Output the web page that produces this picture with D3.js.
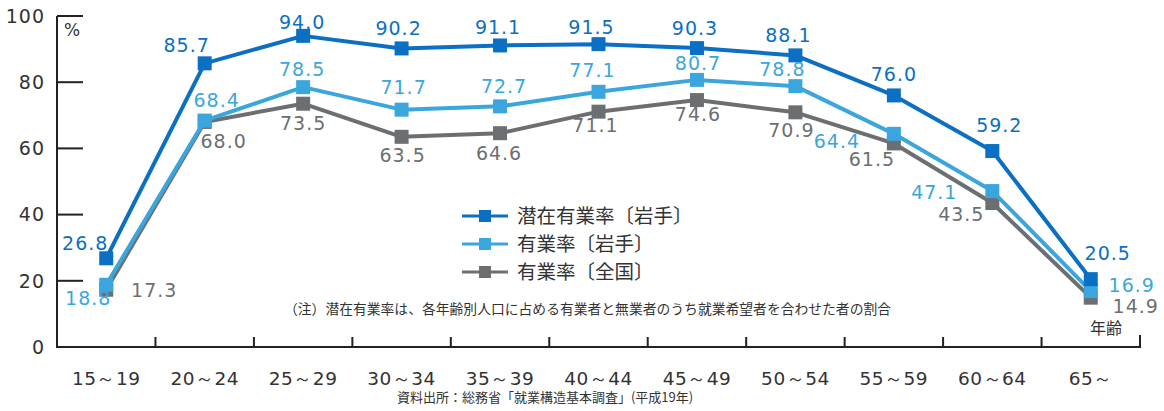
<!DOCTYPE html>
<html><head><meta charset="utf-8">
<script src="https://cdn.jsdelivr.net/npm/d3@7"></script>
<style>
html,body{margin:0;padding:0;background:#fff;}
svg{display:block;}
</style></head>
<body>
<svg id="c" width="1164" height="411"></svg>
<script>
// ---- data ----
const categories = ["15～19","20～24","25～29","30～34","35～39","40～44","45～49","50～54","55～59","60～64","65～"];
const potentialIwate = [26.8,85.7,94.0,90.2,91.1,91.5,90.3,88.1,76.0,59.2,20.5];
const rateIwate      = [18.8,68.4,78.5,71.7,72.7,77.1,80.7,78.8,64.4,47.1,16.9];
const rateNational   = [17.3,68.0,73.5,63.5,64.6,71.1,74.6,70.9,61.5,43.5,14.9];
const seriesNames = ["潜在有業率〔岩手〕","有業率〔岩手〕","有業率〔全国〕"];
const yTicks = [0,20,40,60,80,100];

// ---- layout (label offsets relative to each point) ----
const offsets = [
  [[-21,-15],[-18,-18],[-1,-14],[-3,-20],[-2,-18],[-7,-17],[-2,-20],[-7,-20],[0,-21],[7,-26],[17,-26]],
  [[-18,13],[12,-20],[-1,-18],[2,-23],[4,-20],[-6,-22],[1,-17],[-13,-17],[-57,7],[-58,1],[41,-6]],
  [[48,0],[19,19],[0,19],[1,18],[-1,20],[-3,14],[1,14],[-4,18],[-22,16],[-31,11],[45,8]]
];
const colors = ["#0b6fc3","#3aa6dd","#6c6f71"];

const svg = d3.select("#c");
const x = d3.scaleBand().domain(categories).range([57,1140]).padding(0);
const y = d3.scaleLinear().domain([0,100]).range([347,16]);
const numFont = "'DejaVu Sans', sans-serif";
const jpFont = "'Noto Sans CJK JP', sans-serif";

// axes
const g = svg.append("g");
g.append("line").attr("x1",57).attr("x2",57).attr("y1",y(100)).attr("y2",y(0))
  .attr("stroke","#222").attr("stroke-width",2);
g.append("line").attr("x1",56).attr("x2",1141).attr("y1",y(0)).attr("y2",y(0))
  .attr("stroke","#222").attr("stroke-width",2);
g.append("line").attr("x1",1140).attr("x2",1140).attr("y1",y(0)).attr("y2",y(0)-12)
  .attr("stroke","#222").attr("stroke-width",2);

yTicks.filter(t=>t>0).forEach(t=>{
  g.append("line").attr("x1",57).attr("x2",83).attr("y1",y(t)).attr("y2",y(t))
    .attr("stroke","#222").attr("stroke-width",2);
});
yTicks.forEach(t=>{
  g.append("text").attr("x",45).attr("y",y(t)).attr("dy","0.36em")
    .attr("text-anchor","end").attr("font-family",numFont).attr("font-size",19)
    .attr("letter-spacing",1).attr("fill","#333").text(t);
});
g.append("text").attr("x",72).attr("y",30).attr("dy","0.36em").attr("text-anchor","middle")
  .attr("font-family",numFont).attr("font-size",17).attr("fill","#333").text("%");

categories.slice(1).forEach(c=>{
  g.append("line").attr("x1",x(c)).attr("x2",x(c)).attr("y1",y(0)).attr("y2",y(0)-10)
    .attr("stroke","#222").attr("stroke-width",2);
});
categories.forEach(c=>{
  g.append("text").attr("x",x(c)+x.bandwidth()/2).attr("y",378).attr("dy","0.36em")
    .attr("text-anchor","middle").attr("font-family",numFont).attr("font-size",18.5)
    .attr("letter-spacing",0.5).attr("fill","#333").text(c);
});
g.append("text").attr("x",1106).attr("y",328).attr("dy","0.36em").attr("text-anchor","middle")
  .attr("font-family",jpFont).attr("font-size",16).attr("fill","#333").text("年齢");

// series
const allSeries = [potentialIwate, rateIwate, rateNational];
const line = d3.line().x((d,i)=>x(categories[i])+x.bandwidth()/2).y(d=>y(d));
[2,1,0].forEach(s=>{
  const data = allSeries[s];
  svg.append("path").datum(data).attr("d",line).attr("fill","none")
    .attr("stroke",colors[s]).attr("stroke-width",4).attr("stroke-linejoin","round");
  svg.selectAll(null).data(data).enter().append("rect")
    .attr("x",(d,i)=>x(categories[i])+x.bandwidth()/2-7)
    .attr("y",d=>y(d)-7).attr("width",14).attr("height",14).attr("fill",colors[s]);
});
[0,1,2].forEach(s=>{
  const data = allSeries[s];
  svg.selectAll(null).data(data).enter().append("text")
    .attr("x",(d,i)=>x(categories[i])+x.bandwidth()/2+offsets[s][i][0])
    .attr("y",(d,i)=>y(d)+offsets[s][i][1]).attr("dy","0.36em")
    .attr("text-anchor","middle").attr("font-family",numFont).attr("font-size",19)
    .attr("letter-spacing",1).attr("fill",colors[s]).text(d=>d.toFixed(1));
});

// legend
seriesNames.forEach((n,i)=>{
  const ly = 216 + i*28;
  svg.append("line").attr("x1",462).attr("x2",508).attr("y1",ly).attr("y2",ly)
    .attr("stroke",colors[i]).attr("stroke-width",3);
  svg.append("rect").attr("x",479).attr("y",ly-6).attr("width",12).attr("height",12).attr("fill",colors[i]);
  svg.append("text").attr("x",517).attr("y",ly).attr("dy","0.36em")
    .attr("font-family",jpFont).attr("font-size",19.5).attr("fill","#333").text(n);
});

// note & source
svg.append("text").attr("x",284).attr("y",309).attr("dy","0.36em")
  .attr("font-family",jpFont).attr("font-size",13.8).attr("fill","#333")
  .text("（注）潜在有業率は、各年齢別人口に占める有業者と無業者のうち就業希望者を合わせた者の割合");
svg.append("text").attr("x",545).attr("y",397).attr("dy","0.36em").attr("text-anchor","middle")
  .attr("font-family",jpFont).attr("font-size",13).attr("fill","#333")
  .text("資料出所：総務省「就業構造基本調査」(平成19年)");
</script>
</body></html>
